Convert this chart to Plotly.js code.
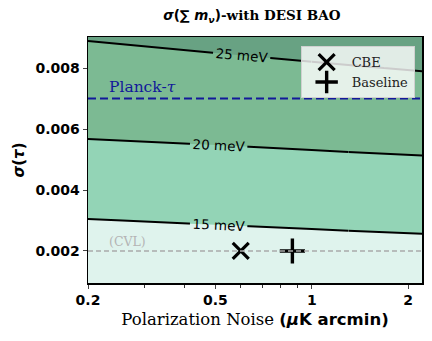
<!DOCTYPE html>
<html>
<head>
<meta charset="utf-8">
<script src="https://cdn.plot.ly/plotly-3.0.1.min.js"></script>
<style>
  html, body { margin: 0; padding: 0; background: #fff; }
  #chart { width: 432px; height: 341px; }
</style>
</head>
<body>
<div id="chart"></div>
<script>
// grid
const noise = [0.2, 0.5, 1.0, 1.3, 2.3];
const sigmaTau = [0.0009, 0.002, 0.003, 0.004, 0.005, 0.006, 0.007, 0.008, 0.0092];
// sigma(sum m_nu) in meV, one row per sigmaTau value
const sigmaMnu = [
  [10.82, 11.19, 11.46, 11.55, 11.76],
  [12.96, 13.33, 13.60, 13.70, 13.91],
  [14.90, 15.27, 15.54, 15.65, 15.86],
  [16.85, 17.22, 17.49, 17.60, 17.81],
  [18.79, 19.16, 19.44, 19.55, 19.77],
  [20.58, 20.93, 21.22, 21.34, 21.59],
  [22.11, 22.56, 22.93, 23.08, 23.41],
  [23.64, 24.19, 24.64, 24.82, 25.22],
  [25.47, 26.14, 26.70, 26.91, 27.39]
];
const levels = [15, 20, 25];

const cbeNoise = [0.6];
const cbeTau = [0.002];
const baseNoise = [0.87];
const baseTau = [0.002];

const planckTau = 0.007;
const cvlTau = 0.002;

const xTicks = [0.2, 0.5, 1, 2];
const xTickText = ["0.2", "0.5", "1", "2"];
const xMinor = [0.3, 0.4, 0.6, 0.7, 0.8, 0.9];
const yTicks = [0.002, 0.004, 0.006, 0.008];

const bandColors = ["#dff3ed", "#93d4b6", "#7cba93", "#68a283"];

const SANS = "DejaVu Sans, sans-serif";
const SERIF = "DejaVu Serif, serif";

const step = [];
bandColors.forEach((c, i) => {
  step.push([i / bandColors.length, c]);
  step.push([(i + 1) / bandColors.length, c]);
});

const gap = levels[1] - levels[0];
const blackScale = [[0, "#000"], [1, "#000"]];

function cols(a, b) {
  return {
    x: noise.slice(a, b),
    z: sigmaMnu.map(r => r.slice(a, b))
  };
}

// a line trace over some columns; with labels it gets a hidden colorbar
// whose ticksuffix puts " meV" on the contour labels
function lineTrace(lo, hi, a, b, labels) {
  const part = cols(a, b);
  const t = {
    type: "contour",
    x: part.x,
    y: sigmaTau,
    z: part.z,
    colorscale: blackScale,
    contours: {
      start: lo, end: hi + (hi === lo ? gap : 0), size: gap,
      coloring: "lines",
      showlabels: labels,
      labelfont: { family: SANS, size: 13.5, color: "#000" }
    },
    line: { width: 2, smoothing: 0 },
    showscale: labels,
    hoverinfo: "skip",
    showlegend: false
  };
  if (labels) {
    t.colorbar = {
      x: 2.5, len: 0.3, ypad: 0, xpad: 0, thickness: 1, outlinewidth: 0,
      tickmode: "linear", tick0: 0, dtick: gap, ticksuffix: " meV",
      showticklabels: false, ticks: ""
    };
  }
  return t;
}

const data = [
  {
    type: "contour",
    x: noise,
    y: sigmaTau,
    z: sigmaMnu,
    zmin: 10,
    zmax: 30,
    colorscale: step,
    contours: { start: levels[0], end: levels[2], size: gap, coloring: "fill", showlines: false },
    line: { width: 0 },
    showscale: false,
    hoverinfo: "skip",
    showlegend: false
  },
  // labels sit on the left part of each line
  lineTrace(levels[0], levels[1], 0, 4, true),
  lineTrace(levels[0], levels[1], 3, 5, false),
  lineTrace(levels[2], levels[2], 0, 3, true),
  lineTrace(levels[2], levels[2], 2, 5, false),
  {
    type: "scatter",
    mode: "markers",
    name: "CBE",
    x: cbeNoise,
    y: cbeTau,
    marker: { symbol: "x-thin", size: 16, color: "#000", line: { color: "#000", width: 3.2 } }
  },
  {
    type: "scatter",
    mode: "markers",
    name: "Baseline",
    x: baseNoise,
    y: baseTau,
    marker: { symbol: "cross-thin", size: 18, color: "#000", line: { color: "#000", width: 3.4 } }
  }
];

const layout = {
  width: 432,
  height: 341,
  margin: { l: 88, r: 10, t: 37, b: 58, autoexpand: false },
  paper_bgcolor: "#fff",
  plot_bgcolor: "#fff",
  title: {
    text: '<b><span style="font-family:DejaVu Sans"><i>σ</i>(∑ <i>m<sub>ν</sub></i>)</span>-with DESI BAO</b>',
    font: { family: SERIF, size: 13.5, color: "#000" },
    x: 0.583, xanchor: "center", y: 0.955, yanchor: "middle"
  },
  xaxis: {
    type: "log",
    range: [Math.log10(0.2), Math.log10(2.21)],
    tickvals: xTicks,
    ticktext: xTickText,
    ticks: "outside",
    ticklen: 4,
    tickwidth: 1,
    tickfont: { family: SANS, size: 14, color: "#000", weight: "bold" },
    minor: { tickvals: xMinor, ticks: "outside", ticklen: 3, tickwidth: 0.8, tickcolor: "#000" },
    showgrid: false,
    zeroline: false,
    showline: true, mirror: true, linecolor: "#000", linewidth: 1.5,
    title: {
      text: 'Polarization Noise <b><span style="font-family:DejaVu Sans">(<i>μ</i>K arcmin)</span></b>',
      font: { family: SERIF, size: 16.5, color: "#000" },
      standoff: 6
    }
  },
  yaxis: {
    range: [0.00095, 0.00902],
    tickvals: yTicks,
    tickformat: ".3f",
    ticks: "outside",
    ticklen: 4,
    tickwidth: 1,
    tickfont: { family: SANS, size: 14, color: "#000", weight: "bold" },
    showgrid: false,
    zeroline: false,
    showline: true, mirror: true, linecolor: "#000", linewidth: 1.5,
    title: {
      text: "<b><i>σ</i>(<i>τ</i>)</b>",
      font: { family: SANS, size: 15, color: "#000" },
      standoff: 7
    }
  },
  shapes: [
    {
      type: "line", xref: "paper", x0: 0, x1: 1, yref: "y", y0: planckTau, y1: planckTau,
      line: { color: "#12189a", width: 2, dash: "8px,4px" }, layer: "above"
    },
    {
      type: "line", xref: "paper", x0: 0, x1: 1, yref: "y", y0: cvlTau, y1: cvlTau,
      line: { color: "#aaaaaa", width: 1.3, dash: "5px,3px" }, layer: "above"
    }
  ],
  annotations: [
    {
      text: "Planck-<i>τ</i>", xref: "paper", x: 0.058, xanchor: "left",
      yref: "y", y: planckTau, yanchor: "bottom", yshift: 1, showarrow: false,
      font: { family: SERIF, size: 15.5, color: "#12189a" }
    },
    {
      text: "(CVL)", xref: "paper", x: 0.058, xanchor: "left",
      yref: "y", y: cvlTau, yanchor: "bottom", yshift: 0, showarrow: false,
      font: { family: SERIF, size: 12.5, color: "#b4b4b4" }
    }
  ],
  legend: {
    x: 0.978, xanchor: "right", y: 0.963, yanchor: "top",
    bgcolor: "rgba(255,255,255,0.8)",
    bordercolor: "#d0d0d0", borderwidth: 1,
    font: { family: SERIF, size: 13, color: "#222" },
    itemwidth: 40,
    tracegroupgap: 0
  }
};

Plotly.newPlot("chart", data, layout, { displayModeBar: false, staticPlot: true });
</script>
</body>
</html>
